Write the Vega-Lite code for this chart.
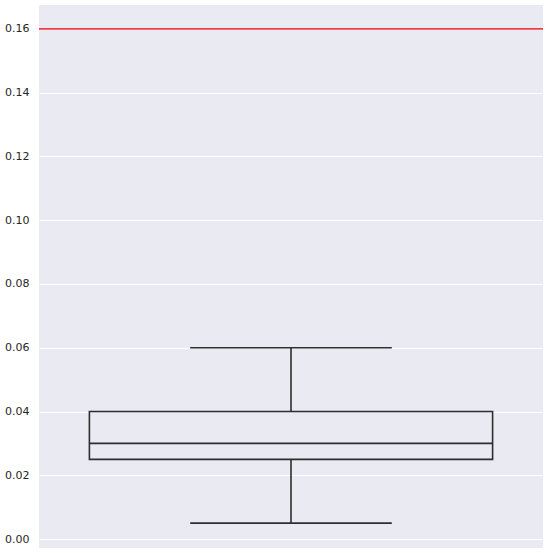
{
  "$schema": "https://vega.github.io/schema/vega-lite/v6.json",
  "width": 550,
  "height": 553,
  "autosize": {"type": "fit", "contains": "padding"},
  "padding": {"left": 4, "top": 5, "right": 6, "bottom": 5},
  "background": "white",
  "config": {
    "view": {"fill": "#EAEAF2", "stroke": null},
    "axis": {"labelFont": "DejaVu Sans", "labelFontSize": 11, "labelColor": "#262626"}
  },
  "data": {"values": [
    {"group": "a", "lower": 0.005, "q1": 0.025, "median": 0.03, "q3": 0.04, "upper": 0.06, "threshold": 0.16}
  ]},
  "encoding": {
    "x": {
      "field": "group", "type": "nominal",
      "scale": {"paddingInner": 0, "paddingOuter": 0.125},
      "axis": null
    }
  },
  "layer": [
    {
      "mark": {"type": "rule", "color": "#2E2E2E", "strokeWidth": 1.6},
      "encoding": {
        "y": {
          "field": "lower", "type": "quantitative",
          "scale": {"domain": [-0.0028, 0.1675], "nice": false, "zero": false},
          "axis": {
            "title": null, "domain": false, "ticks": false, "format": ".2f",
            "values": [0, 0.02, 0.04, 0.06, 0.08, 0.1, 0.12, 0.14, 0.16],
            "gridColor": "white", "gridWidth": 1, "labelPadding": 10
          }
        },
        "y2": {"field": "q1"}
      }
    },
    {
      "mark": {"type": "rule", "color": "#2E2E2E", "strokeWidth": 1.6},
      "encoding": {
        "y": {"field": "q3", "type": "quantitative"},
        "y2": {"field": "upper"}
      }
    },
    {
      "mark": {"type": "rect", "fill": "#EAEAF2", "stroke": "#2E2E2E", "strokeWidth": 1.6},
      "encoding": {
        "y": {"field": "q1", "type": "quantitative"},
        "y2": {"field": "q3"}
      }
    },
    {
      "mark": {"type": "rule", "color": "#2E2E2E", "strokeWidth": 1.6},
      "encoding": {
        "x": {"field": "group", "type": "nominal", "bandPosition": 0},
        "x2": {"field": "group", "bandPosition": 1},
        "y": {"field": "median", "type": "quantitative"}
      }
    },
    {
      "mark": {"type": "rule", "color": "#2E2E2E", "strokeWidth": 1.6},
      "encoding": {
        "x": {"field": "group", "type": "nominal", "bandPosition": 0.25},
        "x2": {"field": "group", "bandPosition": 0.75},
        "y": {"field": "lower", "type": "quantitative"}
      }
    },
    {
      "mark": {"type": "rule", "color": "#2E2E2E", "strokeWidth": 1.6},
      "encoding": {
        "x": {"field": "group", "type": "nominal", "bandPosition": 0.25},
        "x2": {"field": "group", "bandPosition": 0.75},
        "y": {"field": "upper", "type": "quantitative"}
      }
    },
    {
      "mark": {"type": "rule", "color": "#F03C44", "strokeWidth": 1.8},
      "encoding": {
        "x": null,
        "y": {"field": "threshold", "type": "quantitative"}
      }
    }
  ]
}
